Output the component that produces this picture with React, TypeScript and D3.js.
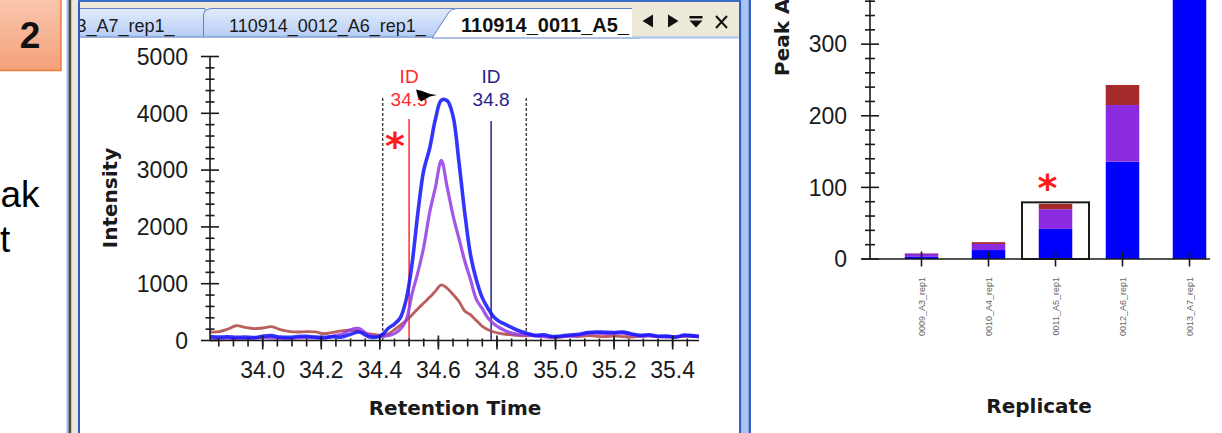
import React, { useEffect, useRef } from 'react';
import * as d3 from 'd3';

// chromatogram: retention times (min) shared by the three traces
const rtTimes = [
  33.82, 33.85, 33.88, 33.91, 33.94, 33.97, 34.0, 34.03, 34.06, 34.09,
  34.12, 34.15, 34.18, 34.21, 34.24, 34.27, 34.3, 34.33, 34.36, 34.39,
  34.41, 34.43, 34.45, 34.47, 34.49, 34.51, 34.53, 34.55, 34.57, 34.59,
  34.61, 34.63, 34.65, 34.67, 34.69, 34.71, 34.73, 34.75, 34.77, 34.79,
  34.81, 34.83, 34.85, 34.87, 34.9, 34.93, 34.96, 34.99, 35.02, 35.05,
  35.08, 35.11, 35.14, 35.17, 35.2, 35.23, 35.26, 35.29, 35.32, 35.35,
  35.38, 35.41, 35.44, 35.47, 35.49,
];
const blueTrace = [
  70, 60, 65, 55, 60, 50, 75, 85, 60, 55,
  70, 75, 60, 55, 65, 60, 110, 150, 70, 60,
  110, 220, 290, 400, 720, 1350, 2250, 3000, 3380, 3900,
  4230, 4220, 3950, 3150, 2250, 1500, 1060, 750, 560, 410,
  330, 280, 230, 180, 130, 90, 100, 70, 80, 95,
  110, 140, 150, 145, 140, 150, 115, 90, 100, 75,
  80, 60, 95, 80, 70,
];
const purpleTrace = [
  40, 35, 40, 30, 35, 40, 50, 45, 40, 35,
  45, 50, 45, 40, 80, 110, 190, 210, 100, 70,
  70, 90, 120, 200, 360, 820, 1200, 1650, 2250, 2700,
  3170, 2700, 2200, 1800, 1400, 1065, 720, 560, 390, 290,
  220, 170, 130, 110, 100, 80, 70, 60, 70, 80,
  95, 120, 130, 120, 125, 130, 100, 80, 85, 70,
  60, 70, 80, 90, 75,
];
const brownTrace = [
  150, 155, 200, 260, 230, 210, 220, 245, 190, 160,
  150, 155, 150, 120, 145, 170, 180, 160, 120, 100,
  90, 120, 190, 270, 350, 450, 560, 660, 760, 870,
  980, 920, 810, 690, 520, 450, 350, 250, 190, 150,
  125, 110, 100, 90, 80, 90, 70, 50, 60, 80,
  70, 85, 75, 70, 80, 70, 60, 75, 80, 65,
  70, 60, 75, 70, 65,
];

const boundaryTimes = [34.41, 34.9];
const idTimes = [34.5, 34.78];
const idLabels = ['34.5', '34.8'];
const idColors = ['#ff2a2a', '#23238c'];

// peak areas per replicate
const replicates = ['0009_A3_rep1', '0010_A4_rep1', '0011_A5_rep1', '0012_A6_rep1', '0013_A7_rep1'];
const blueArea = [3, 12.5, 42, 136, 560];
const purpleArea = [4.5, 8.5, 27.5, 79, 300];
const brownArea = [0.5, 2.5, 7.5, 28, 90];
const selectedReplicate = '0011_A5_rep1';

const tabLabels = ['3_A7_rep1_', '110914_0012_A6_rep1_', '110914_0011_A5_'];

const sans = "'Liberation Sans', Arial, sans-serif";
const heavy = "'DejaVu Sans', Verdana, sans-serif";

function App() {
  const svgRef = useRef(null);

  useEffect(() => {
    const svg = d3.select(svgRef.current);
    svg.selectAll('*').remove();
    const defs = svg.append('defs');

    const og = defs.append('linearGradient').attr('id', 'orange').attr('x1', 0).attr('y1', 0).attr('x2', 0).attr('y2', 1);
    og.append('stop').attr('offset', '0%').attr('stop-color', '#fac8b0');
    og.append('stop').attr('offset', '100%').attr('stop-color', '#f4a078');
    const tg = defs.append('linearGradient').attr('id', 'tab').attr('x1', 0).attr('y1', 0).attr('x2', 0).attr('y2', 1);
    tg.append('stop').attr('offset', '0%').attr('stop-color', '#e2ecfc');
    tg.append('stop').attr('offset', '100%').attr('stop-color', '#b6cdf4');
    defs.append('clipPath').attr('id', 'plotClip')
      .append('rect').attr('x', 210).attr('y', 40).attr('width', 489).attr('height', 301);
    defs.append('clipPath').attr('id', 'stripClip')
      .append('rect').attr('x', 80).attr('y', 0).attr('width', 660).attr('height', 40);

    // slide bits on the far left
    svg.append('rect').attr('x', -1).attr('y', -2).attr('width', 62).attr('height', 72.5)
      .attr('fill', 'url(#orange)').attr('stroke', '#ef7d3a').attr('stroke-width', 1.5);
    svg.append('text').attr('x', 30).attr('y', 48).attr('text-anchor', 'middle')
      .attr('font-family', sans).attr('font-weight', 'bold').attr('font-size', 37).attr('fill', '#111').text('2');
    svg.append('text').attr('x', 0.5).attr('y', 207).attr('font-family', sans).attr('font-size', 37).text('ak');
    svg.append('text').attr('x', 0).attr('y', 252).attr('font-family', sans).attr('font-size', 37).text('t');

    // window frame
    const frame = svg.append('g');
    [[66.5, 2, '#a4bce8'], [68.5, 3, '#4a4a4a'], [71.5, 6.5, '#ece9d8'], [78, 2, '#2f5fc4'],
      [739, 2.5, '#3461c0'], [741.5, 7, '#a8c4f4'], [748.5, 2.5, '#3461c0']].forEach(([px, w, c]) => {
      frame.append('rect').attr('x', px as number).attr('y', 0).attr('width', w as number).attr('height', 433).attr('fill', c as string);
    });
    frame.append('rect').attr('x', 80).attr('y', 0).attr('width', 659).attr('height', 38).attr('fill', '#ece9d8');
    frame.append('rect').attr('x', 78).attr('y', 0).attr('width', 663).attr('height', 2).attr('fill', '#3d6cc6');

    const strip = frame.append('g').attr('clip-path', 'url(#stripClip)');
    strip.append('path').attr('d', 'M70,37 L70,8.5 L205,8.5 L205,37 Z')
      .attr('fill', 'url(#tab)').attr('stroke', '#5b82cc');
    strip.append('path').attr('d', 'M203.5,37 L203.5,15 Q204,9 212,8.5 L455,8.5 L455,37 Z')
      .attr('fill', 'url(#tab)').attr('stroke', '#5b82cc');
    strip.append('line').attr('x1', 80).attr('x2', 440).attr('y1', 36.5).attr('y2', 36.5).attr('stroke', '#8fb0e8').attr('stroke-width', 1.5);
    strip.append('path').attr('d', 'M432,38 L449,12 Q451.5,8.5 458,8.5 L640,8.5 L640,38 Z')
      .attr('fill', '#fff').attr('stroke', '#5b82cc');
    strip.append('text').attr('x', 76.5).attr('y', 31.5).attr('font-family', sans).attr('font-size', 18).attr('fill', '#1a1a1a').text(tabLabels[0]);
    strip.append('text').attr('x', 229).attr('y', 31.5).attr('font-family', sans).attr('font-size', 18).attr('fill', '#1a1a1a').text(tabLabels[1]);
    strip.append('text').attr('x', 461).attr('y', 31.5).attr('font-family', sans).attr('font-weight', 'bold').attr('font-size', 20).attr('fill', '#111').text(tabLabels[2]);
    strip.append('rect').attr('x', 632).attr('y', 3).attr('width', 107).attr('height', 34).attr('fill', '#ece9d8');
    strip.append('line').attr('x1', 632).attr('x2', 739).attr('y1', 37.5).attr('y2', 37.5).attr('stroke', '#a8c4f0').attr('stroke-width', 2);
    strip.append('path').attr('d', 'M642.5,21 L653,14.5 L653,27.5 Z').attr('fill', '#111');
    strip.append('path').attr('d', 'M668,14.5 L678.5,21 L668,27.5 Z').attr('fill', '#111');
    strip.append('rect').attr('x', 689.5).attr('y', 16).attr('width', 13).attr('height', 2.5).attr('fill', '#111');
    strip.append('path').attr('d', 'M689.5,20.5 L702.5,20.5 L696,27.5 Z').attr('fill', '#111');
    strip.append('path').attr('d', 'M716,16 L727,28 M727,16 L716,28').attr('stroke', '#111').attr('stroke-width', 2);

    // ---- chromatogram ----
    const x = d3.scaleLinear().domain([33.82, 35.49]).range([210, 699]);
    const y = d3.scaleLinear().domain([0, 5000]).range([340.5, 56.5]);
    const chrom = svg.append('g');
    const y0 = y(0);

    boundaryTimes.forEach(t => {
      chrom.append('line').attr('x1', x(t)).attr('x2', x(t)).attr('y1', 98).attr('y2', y0)
        .attr('stroke', '#222').attr('stroke-width', 1.2).attr('stroke-dasharray', '3,2');
    });
    idTimes.forEach((t, i) => {
      chrom.append('line').attr('x1', x(t)).attr('x2', x(t)).attr('y1', i === 0 ? 119 : 121).attr('y2', y0)
        .attr('stroke', idColors[i]).attr('stroke-width', 1.5);
    });

    const line = d3.line<number>().x((d, i) => x(rtTimes[i])).y(d => y(d)).curve(d3.curveCatmullRom.alpha(0.5));
    const traces = [
      { values: brownTrace, color: '#b24848', width: 2.8 },
      { values: purpleTrace, color: '#9640e4', width: 3.2 },
      { values: blueTrace, color: '#1818ff', width: 3.6 },
    ];
    const curves = chrom.append('g').attr('clip-path', 'url(#plotClip)');
    traces.forEach(tr => {
      curves.append('path').attr('d', line(tr.values)).attr('fill', 'none')
        .attr('stroke', tr.color).attr('stroke-width', tr.width).attr('stroke-opacity', 0.88)
        .attr('stroke-linejoin', 'round');
    });

    idTimes.forEach((t, i) => {
      chrom.append('text').attr('x', x(t)).attr('y', 83).attr('text-anchor', 'middle')
        .attr('font-family', sans).attr('font-size', 19).attr('fill', idColors[i]).text('ID');
      chrom.append('text').attr('x', x(t)).attr('y', 106).attr('text-anchor', 'middle')
        .attr('font-family', sans).attr('font-size', 19).attr('fill', idColors[i]).text(idLabels[i]);
    });
    chrom.append('path').attr('d', 'M416,89.5 L422,91 L430,94 L437,95 L430,96.5 L421,101.5 L418,97 Z').attr('fill', '#000');
    chrom.append('text').attr('x', 395).attr('y', 159).attr('text-anchor', 'middle')
      .attr('font-family', heavy).attr('font-weight', 'bold').attr('font-size', 38).attr('fill', '#ff1a1a').text('*');

    // axes
    const ax = chrom.append('g').attr('stroke', '#1a1a1a').attr('stroke-width', 1.6);
    ax.append('line').attr('x1', 210).attr('x2', 210).attr('y1', y(5000)).attr('y2', y0);
    ax.append('line').attr('x1', 210).attr('x2', 699).attr('y1', y0).attr('y2', y0);
    d3.range(0, 5001, 200).forEach(v => {
      const major = v % 1000 === 0;
      ax.append('line').attr('x1', major ? 201 : 205.5).attr('x2', major ? 219 : 214.5).attr('y1', y(v)).attr('y2', y(v));
    });
    d3.range(0, 33).map(i => 33.85 + i * 0.05).forEach(t => {
      ax.append('line').attr('x1', x(t)).attr('x2', x(t)).attr('y1', y0 - 2).attr('y2', y0 + 6);
    });
    const xMajor = d3.range(0, 8).map(i => 34 + i * 0.2);
    xMajor.forEach(t => {
      ax.append('line').attr('x1', x(t)).attr('x2', x(t)).attr('y1', y0 - 5).attr('y2', y0 + 9);
    });
    d3.range(0, 5001, 1000).forEach(v => {
      chrom.append('text').attr('x', 188).attr('y', y(v)).attr('dy', '0.36em').attr('text-anchor', 'end')
        .attr('font-family', sans).attr('font-size', 23).attr('fill', '#1a1a1a').text(v);
    });
    xMajor.forEach(t => {
      chrom.append('text').attr('x', x(t)).attr('y', 378).attr('text-anchor', 'middle')
        .attr('font-family', sans).attr('font-size', 23).attr('fill', '#1a1a1a').text(d3.format('.1f')(t));
    });
    chrom.append('text').attr('transform', 'translate(117,198) rotate(-90)').attr('text-anchor', 'middle')
      .attr('font-family', heavy).attr('font-weight', 'bold').attr('font-size', 20).attr('fill', '#1a1a1a').text('Intensity');
    chrom.append('text').attr('x', 455).attr('y', 415).attr('text-anchor', 'middle')
      .attr('font-family', heavy).attr('font-weight', 'bold').attr('font-size', 20).attr('fill', '#1a1a1a').text('Retention Time');

    // ---- peak area bars ----
    const xr = d3.scaleBand().domain(replicates).range([888, 1223]).padding(0);
    const yr = d3.scaleLinear().domain([0, 360]).range([259, 1.2]);
    const table = replicates.map((r, i) => ({ rep: r, blue: blueArea[i], purple: purpleArea[i], brown: brownArea[i] }));
    const stacked = d3.stack().keys(['blue', 'purple', 'brown'])(table as any);
    const barColors: Record<string, string> = { blue: '#0000ff', purple: '#8a2be2', brown: '#a52a2a' };
    const bars = svg.append('g');
    const bw = xr.bandwidth() * 0.5;
    stacked.forEach(layer => {
      bars.selectAll(null).data(layer).enter().append('rect')
        .attr('x', (d: any) => (xr(d.data.rep) as number) + (xr.bandwidth() - bw) / 2)
        .attr('y', (d: any) => yr(d[1]))
        .attr('width', bw)
        .attr('height', (d: any) => Math.max(0, yr(d[0]) - yr(d[1])))
        .attr('fill', barColors[layer.key]);
    });
    const selIdx = replicates.indexOf(selectedReplicate);
    const selTotal = blueArea[selIdx] + purpleArea[selIdx] + brownArea[selIdx];
    bars.append('rect').attr('x', xr(selectedReplicate) as number).attr('y', yr(selTotal) - 1.5)
      .attr('width', xr.bandwidth()).attr('height', yr(0) - yr(selTotal) + 1.5)
      .attr('fill', 'none').attr('stroke', '#1a1a1a').attr('stroke-width', 2);
    bars.append('text').attr('x', (xr(selectedReplicate) as number) + xr.bandwidth() / 2 - 8).attr('y', 201)
      .attr('text-anchor', 'middle').attr('font-family', heavy).attr('font-weight', 'bold').attr('font-size', 38).attr('fill', '#ff1a1a').text('*');

    const axr = svg.append('g').attr('stroke', '#1a1a1a').attr('stroke-width', 1.6);
    axr.append('line').attr('x1', 870).attr('x2', 870).attr('y1', 0).attr('y2', yr(0));
    axr.append('line').attr('x1', 862).attr('x2', 1210).attr('y1', yr(0)).attr('y2', yr(0));
    d3.range(0, 361, 20).forEach(v => {
      const major = v % 100 === 0;
      axr.append('line').attr('x1', major ? 861 : 865).attr('x2', major ? 879 : 875).attr('y1', yr(v)).attr('y2', yr(v));
    });
    replicates.forEach(r => {
      const cx = (xr(r) as number) + xr.bandwidth() / 2;
      axr.append('line').attr('x1', cx).attr('x2', cx).attr('y1', yr(0) - 7.5).attr('y2', yr(0) + 7.5);
      svg.append('text').attr('transform', `translate(${cx + 3},277) rotate(-90)`).attr('text-anchor', 'end')
        .attr('font-family', sans).attr('font-size', 9).attr('fill', '#666').text(r);
    });
    [0, 100, 200, 300].forEach(v => {
      svg.append('text').attr('x', 847).attr('y', yr(v)).attr('dy', '0.36em').attr('text-anchor', 'end')
        .attr('font-family', sans).attr('font-size', 23).attr('fill', '#1a1a1a').text(v);
    });
    svg.append('text').attr('transform', 'translate(789,76) rotate(-90)').attr('text-anchor', 'start')
      .attr('font-family', heavy).attr('font-weight', 'bold').attr('font-size', 20).attr('fill', '#1a1a1a').text('Peak Area');
    svg.append('text').attr('x', 1039).attr('y', 413).attr('text-anchor', 'middle')
      .attr('font-family', heavy).attr('font-weight', 'bold').attr('font-size', 20).attr('fill', '#1a1a1a').text('Replicate');
  }, []);

  return (
    <svg ref={svgRef} width={1222} height={433}
      style={{ position: 'absolute', left: 0, top: 0, background: '#fff', display: 'block' }}></svg>
  );
}

export default App;
